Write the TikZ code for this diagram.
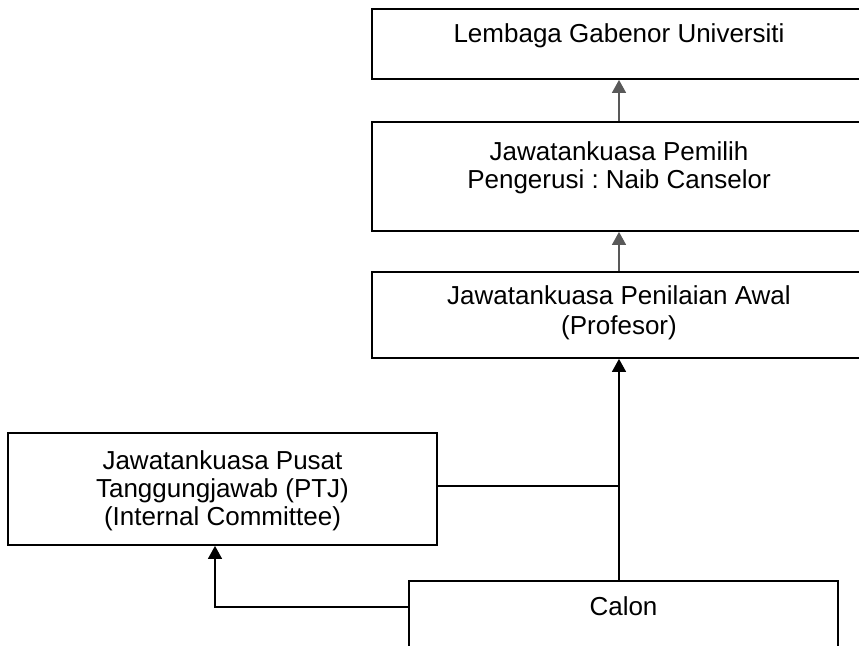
\documentclass[tikz,border=0pt]{standalone}
\usepackage{fontspec}
\setmainfont{Liberation Sans}
\usetikzlibrary{arrows.meta}
\begin{document}
\frenchspacing
\begin{tikzpicture}[x=1pt,y=1pt,
  box/.style={draw=black, line width=1.8pt, rectangle, inner sep=0pt},
  txt/.style={font=\fontsize{26}{28}\selectfont, align=center, inner sep=0pt},
  conn/.style={line width=1.4pt, draw=black},
  arr/.style={conn, -{Triangle[width=14pt,length=13pt]}},
  garr/.style={arr, draw=black!65}
]
\useasboundingbox (0,0) rectangle (859,645);
\clip (0,0) rectangle (859,645);
% boxes
\node[box, minimum width=494pt, minimum height=70pt]  (gov)   at (619,601)   {};
\node[box, minimum width=494pt, minimum height=109pt] (pemilih) at (619,468.5) {};
\node[box, minimum width=494pt, minimum height=86pt]  (awal)  at (619,330)   {};
\node[box, minimum width=429pt, minimum height=112pt] (ptj)   at (222.5,156) {};
\node[box, minimum width=429pt, minimum height=112pt] (calon) at (623.5,8)    {};
% texts
\node[txt, anchor=base] (tgov) at (619,602) {Lembaga Gabenor Universiti};
\node[txt] (tpemilih) at (619,477.3) {Jawatankuasa Pemilih\\Pengerusi : Naib Canselor};
\node[txt, font=\fontsize{26}{30}\selectfont] (tawal) at (619,332.6) {Jawatankuasa Penilaian Awal\\(Profesor)};
\node[txt] (tptj) at (222.5,154.3) {Jawatankuasa Pusat\\Tanggungjawab (PTJ)\\(Internal Committee)};
\node[txt, anchor=base] (tcalon) at (623.5,29) {Calon};
% connectors
\coordinate (calonW) at ([yshift=-27pt]calon.north west);
\coordinate (ptjIn) at ([xshift=-7.5pt]ptj.south);
\coordinate (ptjOut) at ([yshift=3pt]ptj.east);
\draw[garr] (pemilih.north -| gov.south) -- (gov.south);
\draw[garr] (awal.north -| pemilih.south) -- (pemilih.south);
\draw[arr] (calon.north -| awal.south) -- (awal.south);
\draw[conn] (ptjOut) -- (ptjOut -| awal.south);
\draw[arr] (calonW) -| (ptjIn);
\end{tikzpicture}
\end{document}
